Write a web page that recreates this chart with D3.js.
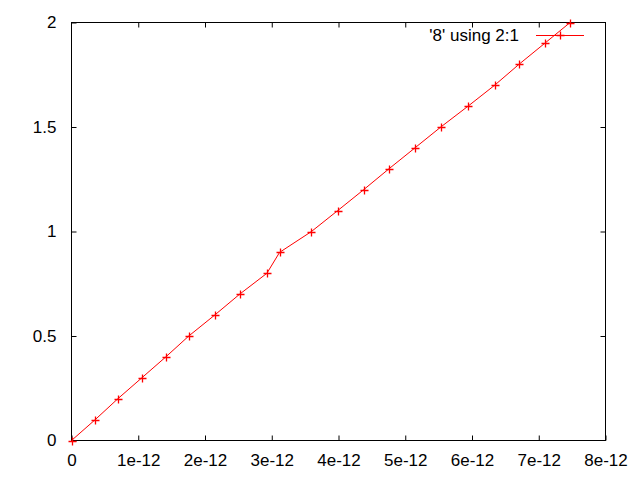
<!DOCTYPE html>
<html>
<head>
<meta charset="utf-8">
<script src="https://cdn.jsdelivr.net/npm/d3@7"></script>
<style>
  html, body { margin: 0; padding: 0; background: #fff; }
  svg { display: block; }
  text { font-family: "Liberation Sans", Arial, sans-serif; font-size: 17px; fill: #000; }
</style>
</head>
<body>
<svg id="chart" width="640" height="480"></svg>
<script>
// Data: column 2 (x) vs column 1 (y)
const xValues = [0, 0.356e-12, 0.695e-12, 1.054e-12, 1.413e-12, 1.757e-12, 2.145e-12, 2.519e-12,
  2.927e-12, 3.117e-12, 3.595e-12, 3.988e-12, 4.377e-12, 4.756e-12, 5.145e-12, 5.533e-12,
  5.942e-12, 6.340e-12, 6.704e-12, 7.088e-12, 7.470e-12];
const yValues = [0, 0.1, 0.2, 0.3, 0.4, 0.5, 0.6, 0.7, 0.8, 0.9, 1.0, 1.1, 1.2, 1.3, 1.4, 1.5,
  1.6, 1.7, 1.8, 1.9, 2.0];
const xTicks = [0, 1e-12, 2e-12, 3e-12, 4e-12, 5e-12, 6e-12, 7e-12, 8e-12];
const xTickLabels = ["0", "1e-12", "2e-12", "3e-12", "4e-12", "5e-12", "6e-12", "7e-12", "8e-12"];
const yTicks = [0, 0.5, 1, 1.5, 2];
const yTickLabels = ["0", "0.5", "1", "1.5", "2"];
const legendLabel = "'8' using 2:1";

const data = xValues.map((x, i) => ({ x, y: yValues[i] }));

const svg = d3.select("#chart");
const L = 71.5, R = 605.5, T = 22.5, B = 440.5;
const tick = 5;
const red = "#ff0000";

const x = d3.scaleLinear().domain([0, 8e-12]).range([L, R]);
const y = d3.scaleLinear().domain([0, 2]).range([B, T]);

// Axes (ticks inward, mirrored)
const fmtX = d => xTickLabels[xTicks.indexOf(d)];
const fmtY = d => yTickLabels[yTicks.indexOf(d)];

const gB = svg.append("g").attr("transform", `translate(0,${B})`)
  .call(d3.axisBottom(x).tickValues(xTicks).tickFormat(fmtX).tickSizeInner(-tick).tickSizeOuter(0).tickPadding(13));
const gT = svg.append("g").attr("transform", `translate(0,${T})`)
  .call(d3.axisTop(x).tickValues(xTicks.slice(1, -1)).tickFormat("").tickSizeInner(-tick).tickSizeOuter(0));
const gL = svg.append("g").attr("transform", `translate(${L},0)`)
  .call(d3.axisLeft(y).tickValues(yTicks).tickFormat(fmtY).tickSizeInner(-tick).tickSizeOuter(0).tickPadding(15));
const gR = svg.append("g").attr("transform", `translate(${R},0)`)
  .call(d3.axisRight(y).tickValues(yTicks.slice(1, -1)).tickFormat("").tickSizeInner(-tick).tickSizeOuter(0));

[gB, gT, gL, gR].forEach(g => {
  g.select(".domain").remove();
  g.selectAll("line").attr("stroke", "#000").attr("stroke-width", 1);
  g.selectAll("text").attr("font-family", "Liberation Sans, Arial, sans-serif").attr("font-size", 17).attr("fill", "#000");
});
gB.selectAll("text").attr("dy", "0.71em");

// Border
svg.append("rect").attr("x", L).attr("y", T).attr("width", R - L).attr("height", B - T)
  .attr("fill", "none").attr("stroke", "#000").attr("stroke-width", 1);

// Line
const line = d3.line().x(d => x(d.x)).y(d => y(d.y));
svg.append("path").datum(data).attr("d", line)
  .attr("fill", "none").attr("stroke", red).attr("stroke-width", 1);

// Points (+)
const ps = 4;
const plus = (cx, cy) => `M${cx - ps},${cy}H${cx + ps}M${cx},${cy - ps}V${cy + ps}`;
svg.append("g").selectAll("path").data(data).join("path")
  .attr("d", d => plus(Math.round(x(d.x)) + 0.5, Math.round(y(d.y)) + 0.5))
  .attr("stroke", red).attr("stroke-width", 1.3).attr("fill", "none");

// Legend
const lg = svg.append("g");
lg.append("text").attr("x", 519).attr("y", 35).attr("dy", "0.35em").attr("text-anchor", "end").text(legendLabel);
lg.append("line").attr("x1", 536).attr("x2", 584).attr("y1", 35.5).attr("y2", 35.5)
  .attr("stroke", red).attr("stroke-width", 1);
lg.append("path").attr("d", plus(560.5, 35.5)).attr("stroke", red).attr("stroke-width", 1.3);
</script>
</body>
</html>
